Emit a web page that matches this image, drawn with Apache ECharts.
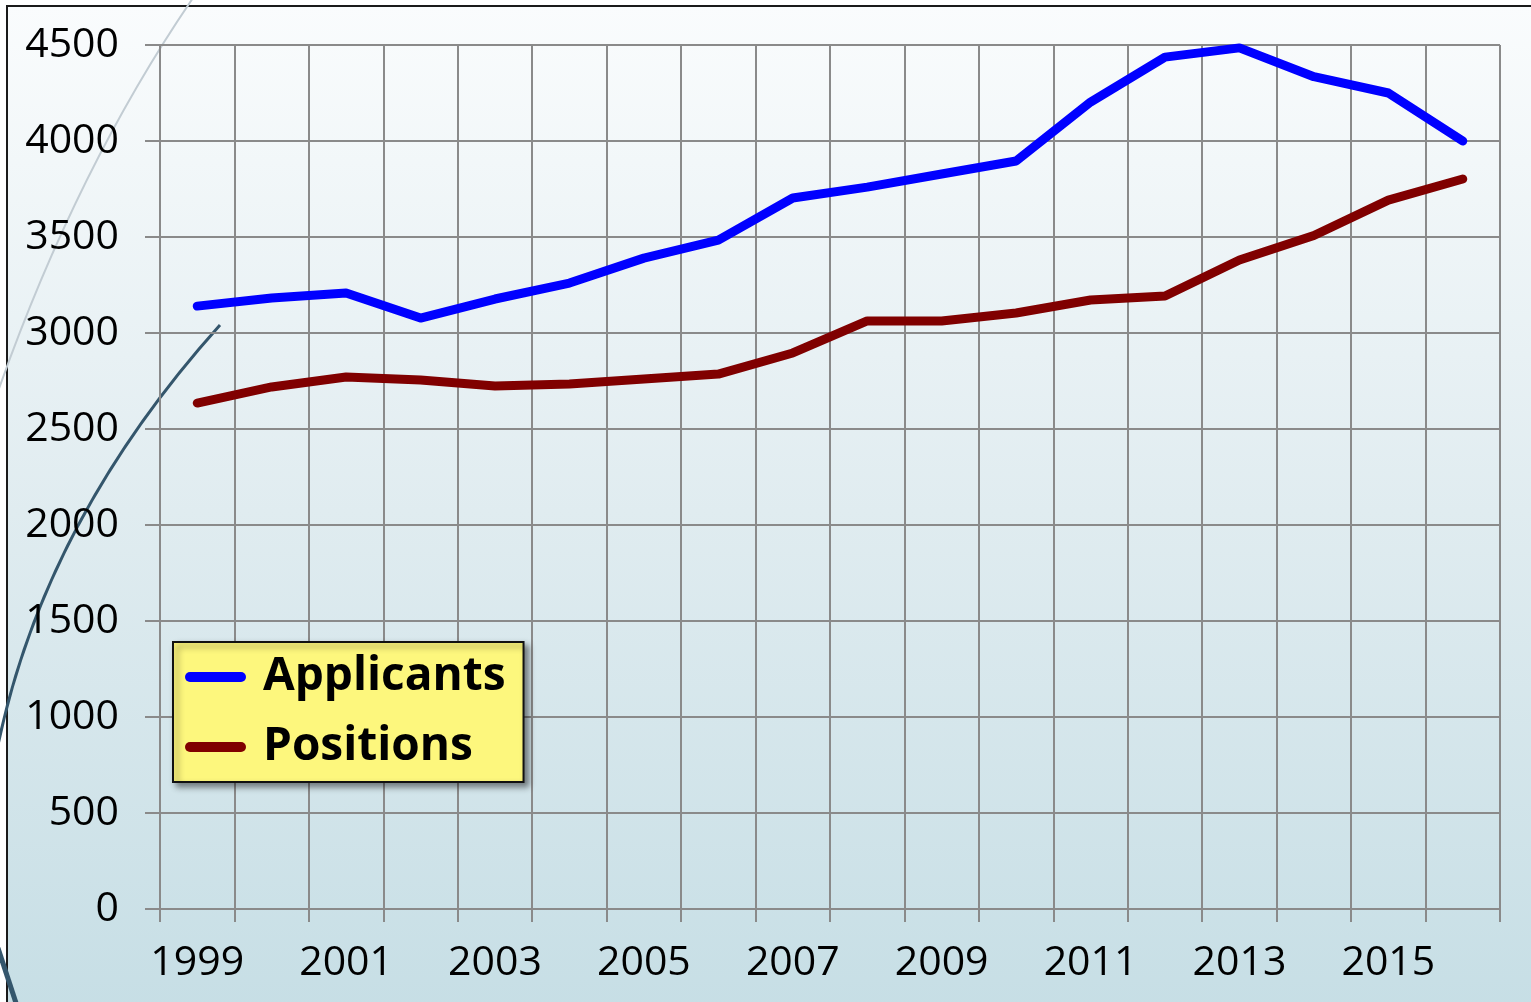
<!DOCTYPE html>
<html>
<head>
<meta charset="utf-8">
<script src="https://cdn.jsdelivr.net/npm/echarts@6/dist/echarts.min.js"></script>
<style>
  html, body { margin: 0; padding: 0; background: #fff; }
  #chart { width: 1531px; height: 1002px; }
</style>
</head>
<body>
<div id="chart"></div>
<script>
// years along the bottom
const years = ['1999', '2000', '2001', '2002', '2003', '2004', '2005', '2006', '2007',
  '2008', '2009', '2010', '2011', '2012', '2013', '2014', '2015', '2016'];

const applicants = [3140, 3182, 3208, 3078, 3177, 3260, 3390, 3484, 3703,
  3760, 3828, 3896, 4203, 4437, 4485, 4335, 4250, 4000];

const positions = [2635, 2719, 2771, 2755, 2724, 2734, 2760, 2786, 2896,
  3063, 3063, 3104, 3172, 3193, 3380, 3508, 3692, 3802];

const gridColor = '#8a8a8a';
const font = 'Open Sans';

const chart = echarts.init(document.getElementById('chart'));

const option = {
  backgroundColor: '#ffffff',
  animation: false,
  graphic: [
    {
      // slide background + frame
      type: 'rect',
      z: -20,
      silent: true,
      shape: { x: 7, y: 6, width: 1540, height: 1010 },
      style: {
        fill: {
          type: 'linear', x: 0, y: 0, x2: 0, y2: 1,
          colorStops: [
            { offset: 0, color: '#fafcfd' },
            { offset: 0.5, color: '#e0ecf0' },
            { offset: 1, color: '#c6dee5' }
          ]
        },
        stroke: '#1a1a1a',
        lineWidth: 2
      }
    },
    {
      type: 'bezierCurve',
      z: -10,
      silent: true,
      shape: { x1: 195, y1: -5, cpx1: 75, cpy1: 170, x2: -5, y2: 400 },
      style: { stroke: '#c2ccd3', lineWidth: 2, fill: null }
    },
    {
      type: 'bezierCurve',
      z: -10,
      silent: true,
      shape: { x1: 220, y1: 325, cpx1: 45, cpy1: 520, x2: -2, y2: 745 },
      style: { stroke: '#34566c', lineWidth: 3, fill: null }
    },
    {
      type: 'line',
      z: -10,
      silent: true,
      shape: { x1: -2, y1: 948, x2: 17, y2: 1006 },
      style: { stroke: '#34566c', lineWidth: 5 }
    }
  ],
  grid: { left: 160, right: 31, top: 45, bottom: 93 },
  legend: {
    orient: 'vertical',
    left: 173,
    top: 642,
    padding: [10, 18, 10, 12],
    itemGap: 20,
    itemWidth: 61,
    itemHeight: 10,
    icon: 'path://M5,0 H56 A5,5 0 0 1 56,10 H5 A5,5 0 0 1 5,0 Z',
    backgroundColor: '#fdf77d',
    borderColor: '#111111',
    borderWidth: 2,
    shadowColor: 'rgba(0,0,0,0.45)',
    shadowBlur: 6,
    shadowOffsetX: 4,
    shadowOffsetY: 4,
    textStyle: {
      fontFamily: font,
      fontWeight: 'bold',
      fontSize: 46,
      lineHeight: 50,
      color: '#000',
      padding: [0, 0, 0, 12]
    },
    data: ['Applicants', 'Positions']
  },
  xAxis: {
    type: 'category',
    data: years,
    boundaryGap: true,
    axisLine: { show: true, lineStyle: { color: gridColor, width: 2 } },
    axisTick: { show: true, interval: 0, length: 13, lineStyle: { color: gridColor, width: 2 } },
    axisLabel: { interval: 1, margin: 34, color: '#000', fontFamily: font, fontSize: 41 },
    splitLine: { show: true, interval: 0, lineStyle: { color: gridColor, width: 2 } }
  },
  yAxis: {
    type: 'value',
    min: 0,
    max: 4500,
    interval: 500,
    axisLine: { show: true, lineStyle: { color: gridColor, width: 2 } },
    axisTick: { show: true, length: 15, lineStyle: { color: gridColor, width: 2 } },
    axisLabel: {
      margin: 41, color: '#000', fontFamily: font, fontSize: 41,
      formatter: v => String(v)
    },
    splitLine: { show: true, lineStyle: { color: gridColor, width: 2 } }
  },
  series: [
    {
      name: 'Applicants',
      type: 'line',
      data: applicants,
      symbol: 'none',
      itemStyle: { color: '#0000ff' },
      lineStyle: { color: '#0000ff', width: 9, cap: 'round', join: 'round' }
    },
    {
      name: 'Positions',
      type: 'line',
      data: positions,
      symbol: 'none',
      itemStyle: { color: '#800000' },
      lineStyle: { color: '#800000', width: 9, cap: 'round', join: 'round' }
    }
  ]
};

chart.setOption(option);
</script>
</body>
</html>
